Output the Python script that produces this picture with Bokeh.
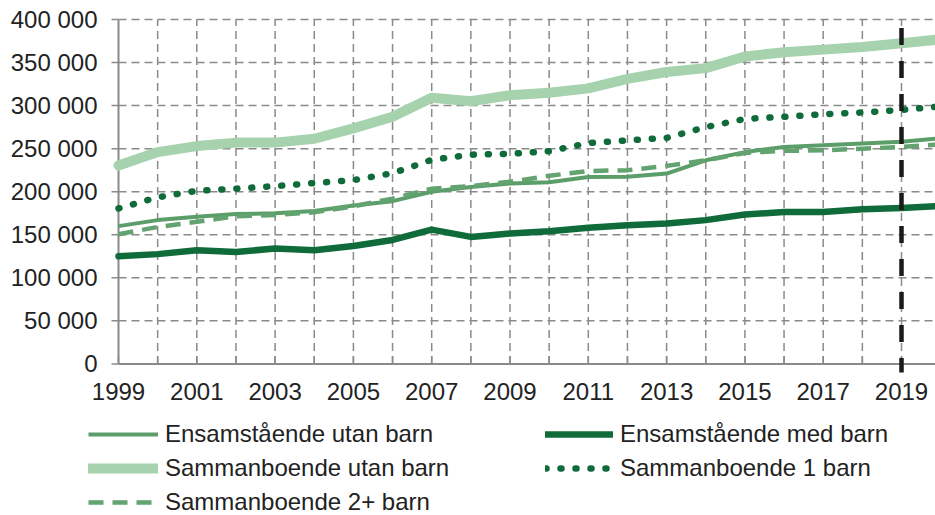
from bokeh.plotting import figure
from bokeh.models import Range1d, Legend, LegendItem, ColumnDataSource
from bokeh.core.properties import value
from bokeh.embed import file_html
from bokeh.resources import INLINE

# ---- data ----
years = list(range(1999, 2021))
ens_utan_barn = [160000, 167000, 171000, 174000, 175000, 177500, 184000, 189000, 200000, 205500, 209500,
                 211000, 217000, 217500, 221000, 236500, 246000, 252000, 254000, 256000, 258000, 262000]
ens_med_barn = [125000, 127500, 132000, 130000, 134000, 132000, 137000, 144000, 156000, 147500, 151500,
                154000, 158000, 161000, 163000, 167000, 173500, 176500, 176500, 179500, 181000, 183500]
samm_utan_barn = [230500, 246000, 253000, 257000, 257000, 261500, 273500, 287000, 309000, 305000, 312000,
                  315000, 320000, 331000, 339000, 343500, 357000, 362000, 365000, 368000, 372500, 377000]
samm_1_barn = [180500, 193500, 201000, 203500, 206500, 210000, 213500, 221500, 237000, 243000, 244000,
               247000, 256500, 259500, 262500, 275000, 284500, 287000, 290000, 292000, 295000, 299000]
samm_2_barn = [150500, 159000, 165000, 171500, 173000, 176000, 183000, 192000, 203500, 206500, 211500,
               218500, 224000, 225000, 230000, 236500, 245000, 247500, 248000, 250000, 252000, 255000]

series_names = ["Ensamstående utan barn", "Ensamstående med barn", "Sammanboende utan barn",
                "Sammanboende 1 barn", "Sammanboende 2+ barn"]

x_tick_years = list(range(1999, 2020))
x_label_years = [1999, 2001, 2003, 2005, 2007, 2009, 2011, 2013, 2015, 2017, 2019]
x_labels = [str(y) for y in x_label_years]
y_ticks = [0, 50000, 100000, 150000, 200000, 250000, 300000, 350000, 400000]
y_tick_labels = ["0", "50 000", "100 000", "150 000", "200 000", "250 000", "300 000", "350 000", "400 000"]

marker_year = 2019
marker_top = 390000
marker_bottom = -10000
x0_year = 1999
y_max = 400000

# ---- geometry / style ----
W, H = 935, 515
PX_PER_YEAR = 39.15
LEFT_PX = 118            # screen x of first year
PX_PER_UNIT = 344.4 / 400000
TOP_PX = 19              # screen y of y_max
x_start = x0_year - LEFT_PX / PX_PER_YEAR
x_end = x0_year + (W - LEFT_PX) / PX_PER_YEAR
y_end = y_max + TOP_PX / PX_PER_UNIT
y_start = y_max - (H - TOP_PX) / PX_PER_UNIT
TICK_X = 7 / PX_PER_YEAR
TICK_Y = 8 / PX_PER_UNIT

FONT = "Liberation Sans"
FS = "24px"
TXT = "#222222"
GRID = "#8a8a8a"
LIGHT = "#a6d3ad"
MED = "#5c9e6a"
MED2 = "#62a370"
DARK = "#0f6b3a"

p = figure(width=W, height=H, output_backend="svg", toolbar_location=None,
           x_range=Range1d(x_start, x_end), y_range=Range1d(y_start, y_end),
           min_border=0, min_border_left=0, min_border_right=0, min_border_top=0, min_border_bottom=0)
p.outline_line_color = None
p.xaxis.visible = False
p.yaxis.visible = False
p.xgrid.visible = False
p.ygrid.visible = False

# grid
gy = y_ticks[1:]
p.segment(x0=[x0_year] * len(gy), y0=gy, x1=[x_end] * len(gy), y1=gy,
          line_color=GRID, line_width=1.5, line_dash="8 5")
gx = x_tick_years[1:]
p.segment(x0=gx, y0=[0] * len(gx), x1=gx, y1=[y_max] * len(gx),
          line_color=GRID, line_width=1.5, line_dash="8 5")
# axes lines and ticks
p.segment(x0=[x0_year], y0=[0], x1=[x0_year], y1=[y_max], line_color=GRID, line_width=2)
p.segment(x0=[x0_year], y0=[0], x1=[x_end], y1=[0], line_color=GRID, line_width=2)
p.segment(x0=[x0_year - TICK_X] * len(y_ticks), y0=y_ticks, x1=[x0_year] * len(y_ticks), y1=y_ticks,
          line_color=GRID, line_width=1.5)
p.segment(x0=x_tick_years, y0=[0] * len(x_tick_years), x1=x_tick_years, y1=[TICK_Y] * len(x_tick_years),
          line_color=GRID, line_width=1.5)

# tick labels
ysrc = ColumnDataSource(dict(x=[x0_year] * len(y_ticks), y=y_ticks, t=y_tick_labels))
p.text(x="x", y="y", text="t", source=ysrc, text_align="right", text_baseline="middle",
       x_offset=-21, text_font=value(FONT), text_font_size=value(FS), text_color=TXT)
xsrc = ColumnDataSource(dict(x=x_label_years, y=[0] * len(x_label_years), t=x_labels))
p.text(x="x", y="y", text="t", source=xsrc, text_align="center", text_baseline="middle",
       y_offset=28, text_font=value(FONT), text_font_size=value(FS), text_color=TXT)

# series
r1 = p.line(years, ens_utan_barn, line_color=MED, line_width=4)
r2 = p.line(years, ens_med_barn, line_color=DARK, line_width=6.5, line_cap="round", line_join="round")
r3 = p.line(years, samm_utan_barn, line_color=LIGHT, line_width=10, line_cap="round", line_join="round")
r4 = p.line(years, samm_1_barn, line_color=DARK, line_width=6.5, line_dash="1 14", line_cap="round")
r5 = p.line(years, samm_2_barn, line_color=MED2, line_width=4.5, line_dash="15 9")

# forecast marker
p.line([marker_year, marker_year], [marker_top, marker_bottom], line_color="#1a1a1a", line_width=4.5,
       line_dash="17 16")


def make_legend(items, loc, gw):
    lg = Legend(items=items, location=loc)
    lg.padding = 0
    lg.margin = 0
    lg.spacing = 0
    lg.label_height = 34
    lg.glyph_height = 34
    lg.glyph_width = gw
    lg.label_standoff = 7
    lg.border_line_color = None
    lg.background_fill_alpha = 0
    lg.label_text_font = FONT
    lg.label_text_font_size = FS
    lg.label_text_color = TXT
    return lg


legA = make_legend([LegendItem(label=series_names[0], renderers=[r1]),
                    LegendItem(label=series_names[2], renderers=[r3]),
                    LegendItem(label=series_names[4], renderers=[r5])], (88, -4), 70)
legB = make_legend([LegendItem(label=series_names[1], renderers=[r2]),
                    LegendItem(label=series_names[3], renderers=[r4])], (545, 30), 68)
p.add_layout(legA)
p.add_layout(legB)

open("out.html", "w").write(file_html(p, INLINE))
